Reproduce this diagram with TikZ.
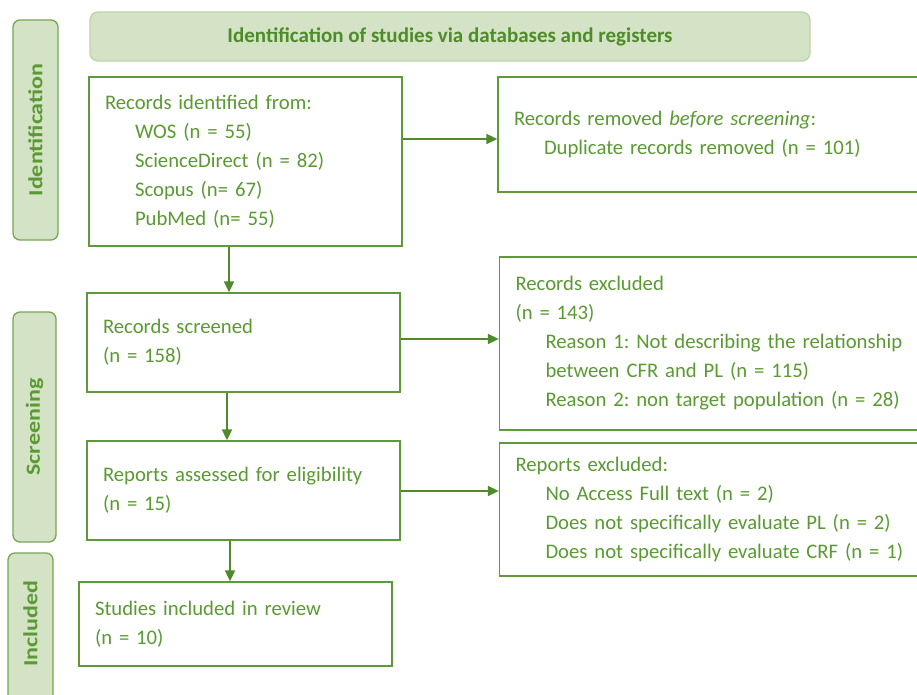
\documentclass[tikz,border=0pt]{standalone}
\usepackage{fontspec}
\setmainfont{Carlito}
\usetikzlibrary{arrows.meta,calc}
\frenchspacing

\definecolor{txtgreen}{HTML}{5A9A32}
\definecolor{headgreen}{HTML}{4E8C2A}
\definecolor{boxline}{HTML}{5E9A3A}
\definecolor{arrowgreen}{HTML}{4F8A2B}
\definecolor{tabfill}{HTML}{D4E2C6}
\definecolor{tabline}{HTML}{74A852}
\definecolor{headline}{HTML}{BAD4A9}

\tikzset{
  x=1pt, y=-1pt,
  flowbox/.style={draw=boxline, line width=1.3pt, fill=white, rectangle,
    inner xsep=16pt, inner ysep=0pt, align=left, text=txtgreen,
    font=\frenchspacing\fontsize{20.7}{29}\selectfont},
  phasetab/.style={draw=tabline, line width=1.3pt, fill=tabfill,
    rounded corners=7pt, rectangle, inner sep=0pt},
  phaselabel/.style={rotate=90, text=txtgreen, font=\bfseries\fontsize{20}{22}\selectfont},
  arr/.style={draw=arrowgreen, line width=1.7pt,
    -{Triangle[length=11pt,width=10pt]}},
}
\newcommand{\ind}{\hspace*{30pt}}
\newcommand{\tabtext}[1]{\scalebox{1.2}[1]{#1}}

\begin{document}
\begin{tikzpicture}
\useasboundingbox (0,0) rectangle (917,695);
\clip (0,0) rectangle (917,695);

% header bar
\node[draw=headline, line width=1.3pt, fill=tabfill, rounded corners=8pt,
  minimum width=720pt, minimum height=49pt, text=headgreen,
  font=\bfseries\fontsize{21}{24}\selectfont] (head) at (450,36.5)
  {Identification of studies via databases and registers};

% phase tabs on the left
\node[phasetab, minimum width=45pt, minimum height=220pt] (tabid) at (35.5,130) {};
\node[phaselabel] (labid) at (tabid.center) {\tabtext{Identification}};
\node[phasetab, minimum width=43pt, minimum height=230pt] (tabsc) at (34.5,427) {};
\node[phaselabel] (labsc) at (tabsc.center) {\tabtext{Screening}};
\node[phasetab, minimum width=45pt, minimum height=150pt] (tabin) at (30.5,628) {};
\node[phaselabel] (labin) at (30.5,624) {\tabtext{Included}};

% main column
\node[flowbox, text width=281pt, minimum height=169pt] (ident) at (245.5,161.5)
  {Records identified from:\\
   \ind WOS (n = 55)\\
   \ind ScienceDirect (n = 82)\\
   \ind Scopus (n= 67)\\
   \ind PubMed (n= 55)};
\node[flowbox, text width=281pt, minimum height=99pt] (screen) at (243.5,342.5)
  {Records screened\\(n = 158)};
\node[flowbox, text width=281pt, minimum height=99pt] (assess) at (243.5,490.5)
  {Reports assessed for eligibility\\(n = 15)};
\node[flowbox, text width=281pt, minimum height=84pt] (incl) at (235.5,624)
  {Studies included in review\\(n = 10)};

% exclusion column
\node[flowbox, text width=398pt, minimum height=115pt] (removed) at (713,134.5)
  {Records removed \textit{before screening}:\\
   \ind Duplicate records removed (n = 101)};
\node[flowbox, text width=398pt, minimum height=173pt] (recexcl) at (714.5,343.5)
  {Records excluded\\
   (n = 143)\\
   \ind Reason 1: Not describing the relationship\\
   \ind between CFR and PL (n = 115)\\
   \ind Reason 2: non target population (n = 28)};
\node[flowbox, text width=398pt, minimum height=133pt] (repexcl) at (714.5,509.5)
  {Reports excluded:\\
   \ind No Access Full text (n = 2)\\
   \ind Does not specifically evaluate PL (n = 2)\\
   \ind Does not specifically evaluate CRF (n = 1)};

% connectors
\draw[arr] ([yshift=22.5pt]ident.east) -- ([yshift=22.5pt]ident.east -| removed.west);
\draw[arr] ([xshift=-16.5pt]ident.south) -- ([xshift=-16.5pt]ident.south |- screen.north);
\draw[arr] ([yshift=3.5pt]screen.east) -- ([yshift=3.5pt]screen.east -| recexcl.west);
\draw[arr] ([xshift=-16.5pt]screen.south) -- ([xshift=-16.5pt]screen.south |- assess.north);
\draw[arr] ([yshift=-0.5pt]assess.east) -- ([yshift=-0.5pt]assess.east -| repexcl.west);
\draw[arr] ([xshift=-13.5pt]assess.south) -- ([xshift=-13.5pt]assess.south |- incl.north);
\end{tikzpicture}
\end{document}
